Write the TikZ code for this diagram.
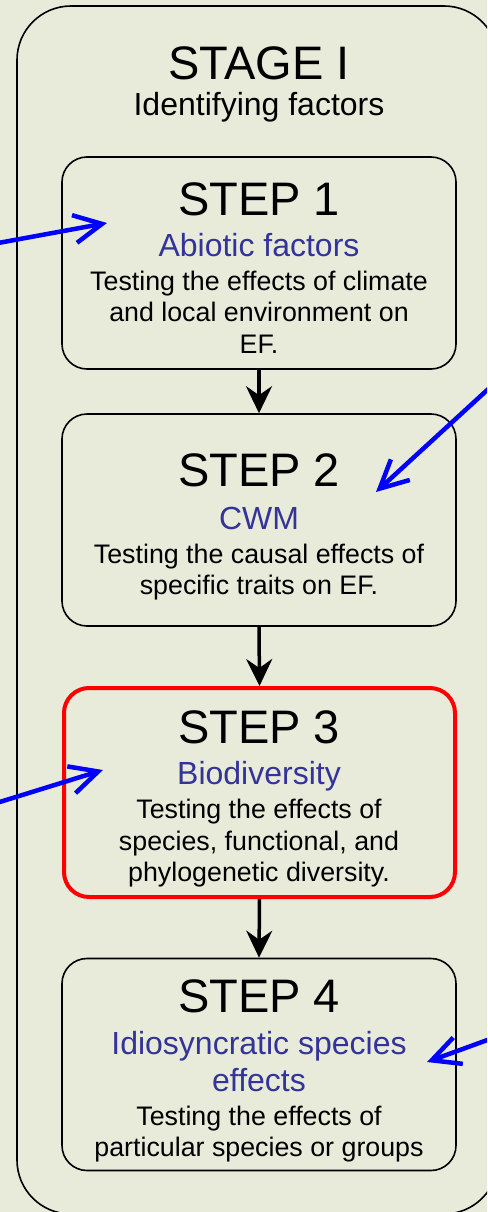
\documentclass[tikz,border=0pt]{standalone}
\usepackage{fontspec}
\setmainfont{Liberation Sans}
\usetikzlibrary{arrows.meta}
\definecolor{bgcol}{RGB}{233,235,218}
\definecolor{subblue}{RGB}{51,51,153}
\definecolor{arrblue}{RGB}{0,0,255}
\definecolor{redline}{RGB}{255,0,0}
\tikzset{
  stepbox/.style={draw=black, line width=1.6pt, rounded corners=25pt, fill=bgcol,
    minimum width=394pt, minimum height=212pt, inner sep=0pt},
  hotbox/.style={stepbox, draw=redline, line width=4pt, minimum width=391pt, minimum height=209pt},
  ttl/.style={anchor=base, inner sep=0pt, font=\fontsize{47}{50}\selectfont},
  sub/.style={anchor=base, inner sep=0pt, text=subblue, font=\fontsize{32}{36}\selectfont},
  body/.style={anchor=base, inner sep=0pt, font=\fontsize{26.8}{31.7}\selectfont},
  flow/.style={line width=3.5pt, -{Stealth[length=27pt, width=26pt, inset=9pt]}},
  pointer/.style={draw=arrblue, line width=4.5pt, line cap=round, -{Straight Barb[length=28pt, width=28pt]}}
}
\begin{document}
\begin{tikzpicture}[x=1pt, y=-1pt]
\useasboundingbox (0,0) rectangle (487,1212);
\fill[bgcol] (0,0) rectangle (487,1212);
\clip (0,0) rectangle (487,1212);
% outer stage frame
\draw[line width=1.6pt, rounded corners=54pt] (17,6) rectangle (498,1214);
\node[ttl] (stage) at (259,80) {STAGE I};
\node[sub, text=black] (stagesub) at (259,116) {Identifying factors};
% step boxes
\node[stepbox] (s1) at (259,263) {};
\node[stepbox] (s2) at (259,520) {};
\node[hotbox] (s3) at (259.5,792.5) {};
\node[stepbox] (s4) at (259,1064.5) {};
% step 1
\node[ttl] (t1) at (259,215) {STEP 1};
\node[sub] (u1) at (259,256) {Abiotic factors};
\node[body] (b1a) at (259,290) {Testing the effects of climate};
\node[body] (b1b) at (259,321.7) {and local environment on};
\node[body] (b1c) at (259,353.3) {EF.};
% step 2
\node[ttl] (t2) at (259,486) {STEP 2};
\node[sub] (u2) at (259,529) {CWM};
\node[body] (b2a) at (259,563.3) {Testing the causal effects of};
\node[body] (b2b) at (259,594.8) {specific traits on EF.};
% step 3
\node[ttl] (t3) at (259,743.3) {STEP 3};
\node[sub] (u3) at (259,784.3) {Biodiversity};
\node[body] (b3a) at (259,818.3) {Testing the effects of};
\node[body] (b3b) at (259,850) {species, functional, and};
\node[body] (b3c) at (259,881.7) {phylogenetic diversity.};
% step 4
\node[ttl] (t4) at (259,1012.3) {STEP 4};
\node[sub] (u4a) at (259,1054.3) {Idiosyncratic species};
\node[sub] (u4b) at (259,1091.7) {effects};
\node[body] (b4a) at (259,1125) {Testing the effects of};
\node[body] (b4b) at (259,1156.7) {particular species or groups};
% flow arrows
\draw[flow] (s1.south) -- (s2.north);
\draw[flow] (s2.south) -- (s3.north);
\draw[flow] (s3.south) -- (s4.north);
% blue pointers
\coordinate (p1s) at (-10,244.5);
\coordinate (p1e) at (107,223);
\coordinate (p2s) at (497,381);
\coordinate (p2e) at (376,492);
\coordinate (p3s) at (-10,805);
\coordinate (p3e) at (103,770);
\coordinate (p4s) at (497,1036.5);
\coordinate (p4e) at (427,1062);
\draw[pointer] (p1s) -- (p1e);
\draw[pointer] (p2s) -- (p2e);
\draw[pointer] (p3s) -- (p3e);
\draw[pointer] (p4s) -- (p4e);
\end{tikzpicture}
\end{document}
